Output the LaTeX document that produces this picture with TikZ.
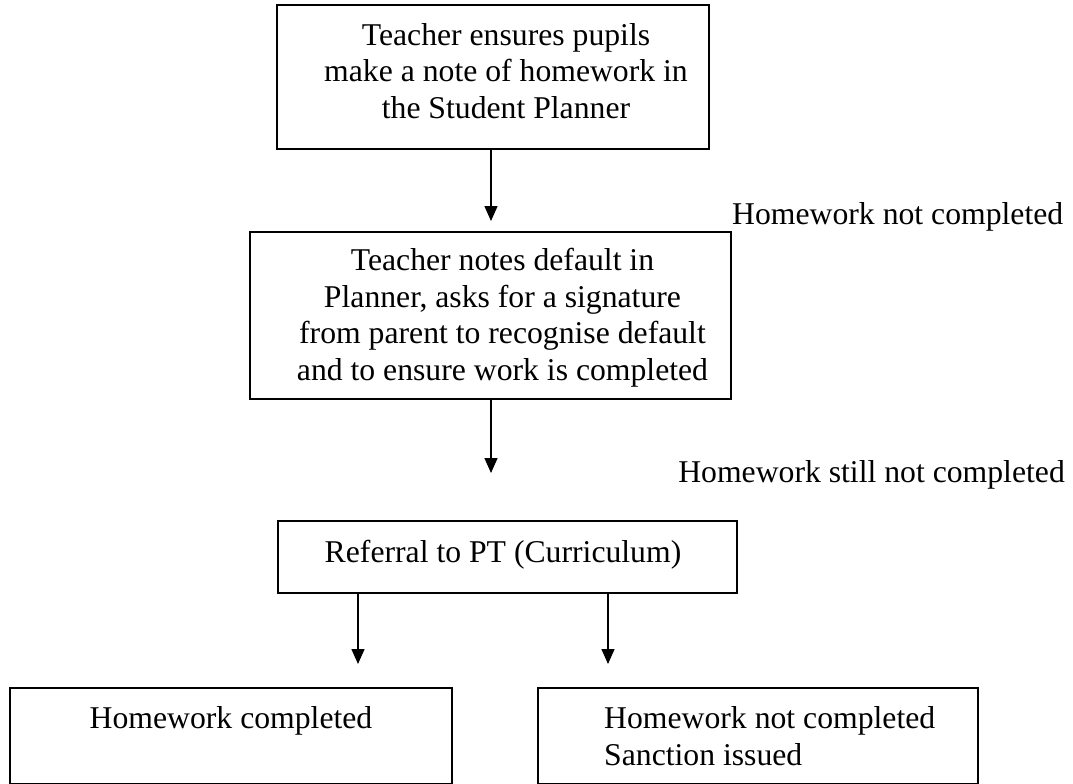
\documentclass[tikz,border=0pt]{standalone}
\usepackage{fontspec}
\setmainfont{Liberation Serif}
\usetikzlibrary{arrows.meta}
\begin{document}
\begin{tikzpicture}[x=1pt,y=-1pt,
  box/.style={draw=black,line width=1.8pt,rectangle,inner sep=0pt},
  txt/.style={inner sep=0pt,font=\fontsize{31.7}{36.5}\selectfont},
  arr/.style={line width=1.5pt,-{Triangle[width=13pt,length=15pt]}}]
\useasboundingbox (0,0) rectangle (1073,784);
% boxes
\node (b1) [box,minimum width=432pt,minimum height=144pt] at (493,77) {};
\node (b2) [box,minimum width=481pt,minimum height=167pt] at (490.5,315.5) {};
\node (b3) [box,minimum width=459pt,minimum height=72pt] at (507.5,557) {};
\node (b4) [box,minimum width=442pt,minimum height=96pt] at (231,736) {};
\node (b5) [box,minimum width=440pt,minimum height=96pt] at (758,736) {};
% texts (base anchor = baseline of the last line)
\node (t1) [txt,anchor=base,align=center] at (506,118) {Teacher ensures pupils\\make a note of homework in\\the Student Planner};
\node (t2) [txt,anchor=base,align=center] at (502.5,380) {Teacher notes default in\\Planner, asks for a signature\\from parent to recognise default\\and to ensure work is completed};
\node (t3) [txt,anchor=base] at (503,562) {Referral to PT (Curriculum)};
\node (t4) [txt,anchor=base] at (231,728) {Homework completed};
\node (t5) [txt,anchor=base west,align=left] at (604,765) {Homework not completed\\Sanction issued};
\node (l1) [txt,anchor=base west] at (732,224) {Homework not completed};
\node (l2) [txt,anchor=base east] at (1065,482) {Homework still not completed};
% arrow ends
\coordinate (e1) at (491,221);
\coordinate (e2) at (491,473);
\coordinate (e3) at (358,664);
\coordinate (e4) at (608,664);
% connectors
\draw[arr] (b1.south -| e1) -- (e1);
\draw[arr] (b2.south -| e2) -- (e2);
\draw[arr] (b3.south -| e3) -- (e3);
\draw[arr] (b3.south -| e4) -- (e4);
\end{tikzpicture}
\end{document}
